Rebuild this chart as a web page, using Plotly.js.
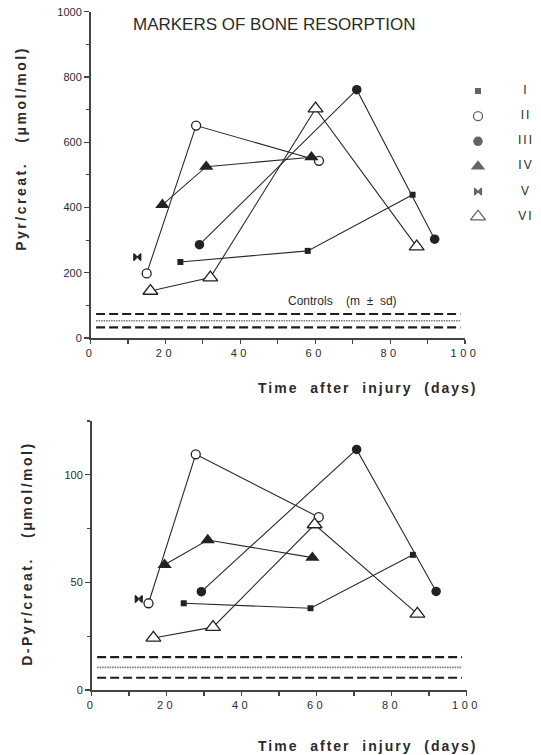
<!DOCTYPE html>
<html>
<head>
<meta charset="utf-8">
<script src="https://cdn.plot.ly/plotly-3.0.1.min.js"></script>
<style>
  html, body { margin: 0; padding: 0; background: #fff; }
  #chart { width: 541px; height: 755px; }
  g.annotation[data-index="0"] text, g.annotation[data-index="1"] text { letter-spacing: 2.5px; }
  g.annotation[data-index="2"] text, g.annotation[data-index="3"] text { letter-spacing: 2px; }
  g.xtick text, g.x2tick text { letter-spacing: 3.5px; }
  g.textpoint text { letter-spacing: 2px; }
</style>
</head>
<body>
<div id="chart"></div>
<script>
// ---------- DATA ----------
const seriesNames = ['I', 'II', 'III', 'IV', 'V', 'VI'];

const xTickVals = [0, 20, 40, 60, 80, 100];
const xTickLabels = ['0', '20', '40', '60', '80', '100'];
const pyrTickVals = [0, 200, 400, 600, 800, 1000];
const pyrTickLabels = ['0', '200', '400', '600', '800', '1000'];
const dpyrTickVals = [0, 50, 100];
const dpyrTickLabels = ['0', '50', '100'];

// Pyr/creat. (umol/mol) vs days
const pyrI_days = [24, 58, 86];          const pyrI = [233, 267, 439];
const pyrII_days = [15, 28.2, 61];       const pyrII = [198, 651, 543];
const pyrIII_days = [29.1, 71.1, 91.9];  const pyrIII = [286, 761, 303];
const pyrIV_days = [19.2, 30.9, 59];     const pyrIV = [408, 525, 554];
const pyrV_days = [12.5];                const pyrV = [248];
const pyrVI_days = [16, 32, 60.1, 87.1]; const pyrVI = [144, 185, 703, 280];

// D-Pyr/creat. (umol/mol) vs days
const dpyrI_days = [24.6, 58.4, 85.7];    const dpyrI = [40.3, 38.0, 62.8];
const dpyrII_days = [15.2, 27.8, 60.6];   const dpyrII = [40.3, 109.5, 80.3];
const dpyrIII_days = [29.3, 70.7, 91.9];  const dpyrIII = [45.7, 111.8, 45.8];
const dpyrIV_days = [19.5, 31, 58.9];     const dpyrIV = [58.2, 69.7, 61.5];
const dpyrV_days = [12.6];                const dpyrV = [42.3];
const dpyrVI_days = [16.5, 32.4, 59.5, 86.9]; const dpyrVI = [24.2, 29.2, 76.9, 35.4];

// Controls (mean +/- sd)
const controlDays = [1.5, 98.8];
const pyrControlMean = 53;   const pyrControlSD = 20.5;
const dpyrControlMean = 10.5; const dpyrControlSD = 4.8;

// ---------- STYLE ----------
const FONT = 'Liberation Sans, Arial, Helvetica, sans-serif';
const INK = '#222222';
const TXT = '#2b2b2b';
const markerStyles = [
  { symbol: 'square', size: 6, color: INK, line: { color: INK, width: 0 } },
  { symbol: 'circle', size: 9, color: '#ffffff', line: { color: INK, width: 1.3 } },
  { symbol: 'circle', size: 9.5, color: INK, line: { color: INK, width: 0 } },
  { symbol: 'triangle-up', size: 12.5, color: INK, line: { color: INK, width: 0 } },
  { symbol: 'bowtie', size: 7, color: INK, line: { color: INK, width: 1.2 } },
  { symbol: 'triangle-up', size: 13, color: '#ffffff', line: { color: INK, width: 1.3 } }
];

const pyrDaysList = [pyrI_days, pyrII_days, pyrIII_days, pyrIV_days, pyrV_days, pyrVI_days];
const pyrValsList = [pyrI, pyrII, pyrIII, pyrIV, pyrV, pyrVI];
const dpyrDaysList = [dpyrI_days, dpyrII_days, dpyrIII_days, dpyrIV_days, dpyrV_days, dpyrVI_days];
const dpyrValsList = [dpyrI, dpyrII, dpyrIII, dpyrIV, dpyrV, dpyrVI];

function controlTraces(mean, sd, xa, ya) {
  const dashed = { color: '#1e1e1e', width: 2.2, dash: '9px,4px' };
  const dotted = { color: '#777777', width: 1.6, dash: '1.5px,1px' };
  return [
    { x: controlDays, y: controlDays.map(() => mean + sd), mode: 'lines', line: dashed, xaxis: xa, yaxis: ya, hoverinfo: 'skip' },
    { x: controlDays, y: controlDays.map(() => mean), mode: 'lines', line: dotted, xaxis: xa, yaxis: ya, hoverinfo: 'skip' },
    { x: controlDays, y: controlDays.map(() => mean - sd), mode: 'lines', line: dashed, xaxis: xa, yaxis: ya, hoverinfo: 'skip' }
  ];
}

function seriesTraces(daysList, valsList, xa, ya) {
  return daysList.map((d, i) => ({
    x: d, y: valsList[i], name: seriesNames[i],
    mode: d.length > 1 ? 'lines+markers' : 'markers',
    line: { color: '#2a2a2a', width: 1.1 },
    marker: markerStyles[i],
    xaxis: xa, yaxis: ya, cliponaxis: false
  }));
}

const legendRows = seriesNames.map((_, i) => i);
const legendSymbols = {
  x: legendRows.map(() => 0), y: legendRows, mode: 'markers',
  marker: {
    symbol: markerStyles.map(s => s.symbol),
    size: markerStyles.map(s => s.size),
    color: markerStyles.map(s => s.color),
    line: { color: INK, width: markerStyles.map(s => s.line.width) }
  },
  xaxis: 'x3', yaxis: 'y3', cliponaxis: false, hoverinfo: 'skip'
};
const legendLabels = {
  x: legendRows.map(() => 1), y: legendRows, mode: 'text', text: seriesNames,
  textposition: 'middle center', textfont: { family: FONT, size: 12, color: TXT },
  xaxis: 'x3', yaxis: 'y3', cliponaxis: false, hoverinfo: 'skip'
};

const data = [].concat(
  controlTraces(pyrControlMean, pyrControlSD, 'x', 'y'),
  controlTraces(dpyrControlMean, dpyrControlSD, 'x2', 'y2'),
  seriesTraces(pyrDaysList, pyrValsList, 'x', 'y'),
  seriesTraces(dpyrDaysList, dpyrValsList, 'x2', 'y2'),
  [legendSymbols, legendLabels]
);

const W = 541, H = 755;
function px(x) { return x / W; }
function py(y) { return (H - y) / H; }

function xAxis(domain, anchor) {
  return {
    domain: domain, anchor: anchor, range: [0, 100], fixedrange: true,
    showline: true, linecolor: '#444', linewidth: 1.5, mirror: false,
    ticks: 'outside', ticklen: 4, tickwidth: 1.2, tickcolor: '#444',
    tickvals: xTickVals, ticktext: xTickLabels,
    tickfont: { family: FONT, size: 11, color: TXT },
    minor: { dtick: 10, tick0: 0, ticks: 'outside', ticklen: 4, tickwidth: 1.2, tickcolor: '#444', showgrid: false },
    showgrid: false, zeroline: false
  };
}
function yAxis(domain, anchor, range, vals, labels, minorStep) {
  return {
    domain: domain, anchor: anchor, range: range, fixedrange: true,
    showline: true, linecolor: '#444', linewidth: 1.5,
    ticks: 'outside', ticklen: 5, tickwidth: 1.2, tickcolor: '#444',
    tickvals: vals, ticktext: labels,
    tickfont: { family: FONT, size: 11, color: TXT },
    minor: { dtick: minorStep, tick0: 0, ticks: 'outside', ticklen: 3, tickwidth: 1.2, tickcolor: '#444', showgrid: false },
    showgrid: false, zeroline: false
  };
}

const layout = {
  width: W, height: H,
  margin: { l: 0, r: 0, t: 0, b: 0 },
  paper_bgcolor: '#ffffff', plot_bgcolor: '#ffffff',
  showlegend: false,
  font: { family: FONT, color: TXT },
  xaxis: xAxis([px(90.5), px(465)], 'y'),
  yaxis: yAxis([py(338), py(11.7)], 'x', [0, 1000], pyrTickVals, pyrTickLabels, 100),
  xaxis2: xAxis([px(91.5), px(466.5)], 'y2'),
  yaxis2: yAxis([py(690), py(421)], 'x2', [0, 125], dpyrTickVals, dpyrTickLabels, 25),
  xaxis3: { domain: [px(478), px(526)], anchor: 'y3', range: [0, 1], visible: false, fixedrange: true },
  yaxis3: { domain: [py(216.7), py(91)], anchor: 'x3', range: [5, 0], visible: false, fixedrange: true },
  annotations: [
    { text: 'Pyr/creat.\u00a0\u00a0\u00a0(\u03bcmol/mol)', xref: 'paper', yref: 'paper', x: px(21), y: py(149),
      textangle: -90, showarrow: false, xanchor: 'center', yanchor: 'middle',
      font: { family: FONT, size: 14, weight: 700, color: TXT } },
    { text: 'D-Pyr/creat.\u00a0\u00a0\u00a0(\u03bcmol/mol)', xref: 'paper', yref: 'paper', x: px(26), y: py(553.5),
      textangle: -90, showarrow: false, xanchor: 'center', yanchor: 'middle',
      font: { family: FONT, size: 14, weight: 700, color: TXT } },
    { text: 'Time\u00a0\u00a0after\u00a0\u00a0injury\u00a0\u00a0(days)', xref: 'paper', yref: 'paper', x: px(367), y: py(388),
      showarrow: false, xanchor: 'center', yanchor: 'middle',
      font: { family: FONT, size: 14, weight: 700, color: TXT } },
    { text: 'Time\u00a0\u00a0after\u00a0\u00a0injury\u00a0\u00a0(days)', xref: 'paper', yref: 'paper', x: px(367), y: py(746),
      showarrow: false, xanchor: 'center', yanchor: 'middle',
      font: { family: FONT, size: 14, weight: 700, color: TXT } },
    { text: 'Controls\u00a0\u00a0\u00a0\u00a0(m\u00a0\u00a0\u00b1\u00a0\u00a0sd)', xref: 'x', yref: 'y', x: 67.2, y: 114,
      showarrow: false, xanchor: 'center', yanchor: 'middle',
      font: { family: FONT, size: 12, color: TXT } },
    { text: 'MARKERS OF BONE RESORPTION', xref: 'paper', yref: 'paper', x: px(274), y: py(25),
      showarrow: false, xanchor: 'center', yanchor: 'middle',
      font: { family: FONT, size: 17, color: TXT } }
  ]
};

Plotly.newPlot('chart', data, layout, { staticPlot: true, displayModeBar: false });
</script>
</body>
</html>
